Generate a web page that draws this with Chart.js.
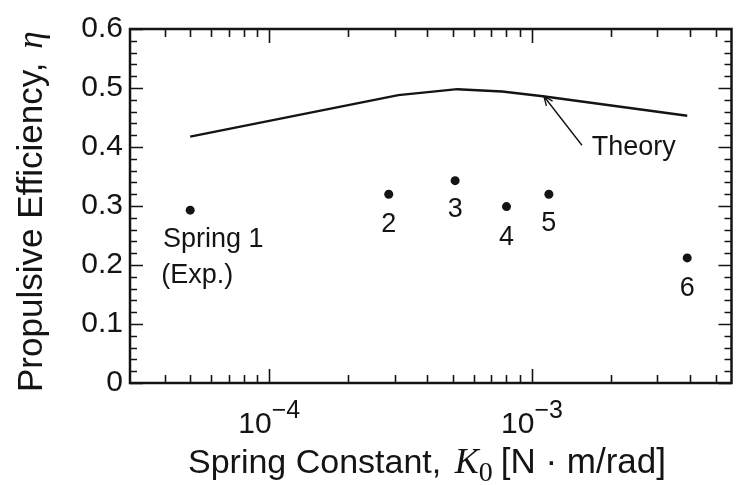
<!DOCTYPE html>
<html>
<head>
    <title>Propulsive Efficiency vs Spring Constant</title>
    <script src="https://cdn.jsdelivr.net/npm/chart.js"></script>
    <style>
        body { margin: 0; background: #fff; }
    </style>
</head>
<body>
    <canvas id="myChart" width="736" height="485"></canvas>

    <script>
        // Experiments: spring label, spring constant K0 [N m/rad], measured efficiency
        var springNames = ['Spring 1', '2', '3', '4', '5', '6'];
        var springK = [5.0e-5, 2.85e-4, 5.1e-4, 8.0e-4, 1.16e-3, 3.9e-3];
        var springEta = [0.293, 0.320, 0.343, 0.299, 0.320, 0.212];

        // Theoretical curve
        var theoryK = [5.0e-5, 3.1e-4, 5.2e-4, 7.7e-4, 1.1e-3, 3.9e-3];
        var theoryEta = [0.4175, 0.488, 0.498, 0.494, 0.486, 0.453];

        // Axis ranges and tick labels
        var kMin = 2.95e-5, kMax = 5.75e-3;
        var yTicks = [0, 0.1, 0.2, 0.3, 0.4, 0.5, 0.6];
        var xTickExp = [-4, -3];

        var sansFont = '"Liberation Sans", Arial, Helvetica, sans-serif';
        var mathFont = '"Liberation Serif", "DejaVu Serif", serif';
        var ink = '#141414';

        // label placement next to the experiment points (pixel offsets)
        var labelOffsets = [[23, 37], [0, 38], [0, 36], [0, 38], [0, 37], [0, 38]];
        var expNote = { text: '(Exp.)', dx: 7, dy: 73 };
        var theoryNote = { text: 'Theory', k: 2.44e-3, eta: 0.386, tailK: 1.55e-3, tailEta: 0.403, tipK: 1.11e-3, tipEta: 0.486 };

        function pts(xs, ys) {
            return xs.map(function (v, i) { return { x: v, y: ys[i] }; });
        }

        // minor decade ticks 2..9 x 10^n inside the range
        var xMinor = [];
        [-5, -4, -3].forEach(function (e) {
            for (var m = 2; m <= 9; m++) {
                var v = m * Math.pow(10, e);
                if (v > kMin * 1.02 && v < kMax) xMinor.push(v);
            }
        });
        var xMajor = xTickExp.map(function (e) { return Math.pow(10, e); });

        // frame, inward ticks, exponent tick labels, axis titles and notes
        var decorations = {
            id: 'decorations',
            afterDatasetsDraw: function (chart) {
                var c = chart.ctx, a = chart.chartArea;
                var xs = chart.scales.x, ys = chart.scales.y;
                c.save();
                c.strokeStyle = ink;
                c.fillStyle = ink;

                // frame
                c.lineWidth = 2.5;
                c.strokeRect(a.left, a.top, a.right - a.left, a.bottom - a.top);

                // y ticks every 0.02, long ones at labelled values
                c.lineWidth = 1.6;
                c.beginPath();
                for (var i = 0; i <= 30; i++) {
                    var py = Math.round(ys.getPixelForValue(i * 0.02)) + 0.5;
                    var len = (i % 5 === 0) ? 13 : 7;
                    c.moveTo(a.left, py); c.lineTo(a.left + len, py);
                    c.moveTo(a.right, py); c.lineTo(a.right - len, py);
                }
                xMinor.concat(xMajor).forEach(function (v) {
                    var px = Math.round(xs.getPixelForValue(v)) + 0.5;
                    var len = xMajor.indexOf(v) >= 0 ? 14 : 8;
                    c.moveTo(px, a.bottom); c.lineTo(px, a.bottom - len);
                    c.moveTo(px, a.top); c.lineTo(px, a.top + len);
                });
                c.stroke();

                // x tick labels as powers of ten
                c.textBaseline = 'alphabetic';
                c.textAlign = 'left';
                xTickExp.forEach(function (e) {
                    var px = xs.getPixelForValue(Math.pow(10, e));
                    c.font = '30px ' + sansFont;
                    var baseW = c.measureText('10').width;
                    var sup = '\u2212' + Math.abs(e);
                    c.font = '25px ' + sansFont;
                    var supW = c.measureText(sup).width;
                    var left = px - (baseW + supW) / 2;
                    c.font = '30px ' + sansFont;
                    c.fillText('10', left, a.bottom + 50);
                    c.font = '25px ' + sansFont;
                    c.fillText(sup, left + baseW, a.bottom + 35);
                });

                // x title
                var tx = 188, ty = a.bottom + 90;
                c.font = '34px ' + sansFont;
                var s1 = 'Spring Constant, ';
                c.fillText(s1, tx, ty);
                tx += c.measureText(s1).width + 4;
                c.font = 'italic 36px ' + mathFont;
                c.fillText('K', tx, ty);
                tx += c.measureText('K').width;
                c.font = '28px ' + mathFont;
                c.fillText('0', tx, ty + 8);
                tx += c.measureText('0').width + 8;
                c.font = '35px ' + sansFont;
                c.fillText('[N \u00b7 m/rad]', tx, ty);

                // y title, rotated
                c.save();
                c.translate(42, 392);
                c.rotate(-Math.PI / 2);
                c.font = '35px ' + sansFont;
                var s2 = 'Propulsive Efficiency, ';
                c.fillText(s2, 0, 0);
                var w2 = c.measureText(s2).width;
                c.font = 'italic 35px ' + mathFont;
                c.fillText('\u03b7', w2 + 4, 0);
                c.restore();

                // point labels
                c.font = '27px ' + sansFont;
                c.textAlign = 'center';
                springNames.forEach(function (name, i) {
                    var px = xs.getPixelForValue(springK[i]);
                    var py = ys.getPixelForValue(springEta[i]);
                    c.fillText(name, px + labelOffsets[i][0], py + labelOffsets[i][1]);
                    if (i === 0) {
                        c.fillText(expNote.text, px + expNote.dx, py + expNote.dy);
                    }
                });

                // theory note with arrow pointing at the curve
                c.fillText(theoryNote.text, xs.getPixelForValue(theoryNote.k), ys.getPixelForValue(theoryNote.eta));
                var x1 = xs.getPixelForValue(theoryNote.tailK), y1 = ys.getPixelForValue(theoryNote.tailEta);
                var x2 = xs.getPixelForValue(theoryNote.tipK), y2 = ys.getPixelForValue(theoryNote.tipEta);
                var ang = Math.atan2(y2 - y1, x2 - x1);
                c.lineWidth = 1.4;
                c.beginPath();
                c.moveTo(x1, y1); c.lineTo(x2, y2);
                c.moveTo(x2 - 10 * Math.cos(ang - 0.4), y2 - 10 * Math.sin(ang - 0.4));
                c.lineTo(x2, y2);
                c.lineTo(x2 - 10 * Math.cos(ang + 0.4), y2 - 10 * Math.sin(ang + 0.4));
                c.stroke();

                c.restore();
            }
        };

        var myChart = new Chart(document.getElementById('myChart').getContext('2d'), {
            type: 'scatter',
            data: {
                datasets: [
                    {
                        label: 'Theory',
                        type: 'line',
                        data: pts(theoryK, theoryEta),
                        borderColor: ink,
                        borderWidth: 2.4,
                        pointRadius: 0,
                        tension: 0,
                        fill: false
                    },
                    {
                        label: 'Exp.',
                        data: pts(springK, springEta),
                        backgroundColor: ink,
                        borderWidth: 0,
                        pointRadius: 4.5
                    }
                ]
            },
            options: {
                responsive: false,
                animation: false,
                devicePixelRatio: 1,
                layout: { padding: { left: 0, top: 29, right: 2, bottom: 102 } },
                plugins: {
                    legend: { display: false },
                    tooltip: { enabled: false }
                },
                scales: {
                    x: {
                        type: 'logarithmic',
                        min: kMin,
                        max: kMax,
                        grid: { display: false, drawTicks: false },
                        border: { display: false },
                        ticks: { display: false }
                    },
                    y: {
                        min: 0,
                        max: 0.6,
                        grid: { display: false, drawTicks: false },
                        border: { display: false },
                        afterBuildTicks: function (scale) {
                            scale.ticks = yTicks.map(function (v) { return { value: v }; });
                        },
                        afterFit: function (scale) { scale.width = 130; },
                        ticks: {
                            padding: 7,
                            color: ink,
                            font: { family: sansFont, size: 30 },
                            callback: function (v) { return String(v); }
                        }
                    }
                }
            },
            plugins: [decorations]
        });
    </script>
</body>
</html>
